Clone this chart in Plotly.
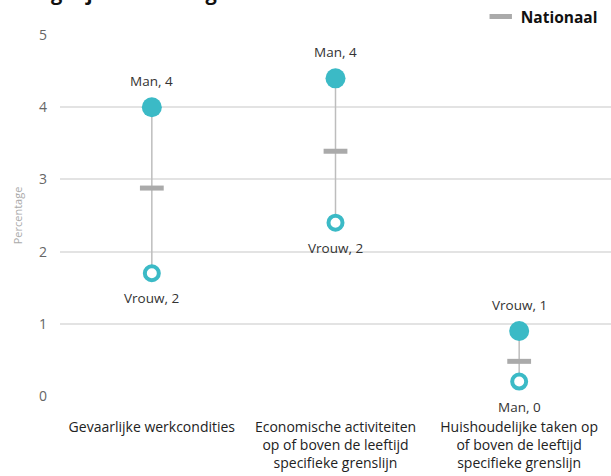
import plotly.graph_objects as go

categories = [
    "Gevaarlijke werkcondities",
    "Economische activiteiten<br>op of boven de leeftijd<br>specifieke grenslijn",
    "Huishoudelijke taken op<br>of boven de leeftijd<br>specifieke grenslijn",
]
man = [4.0, 4.4, 0.2]
vrouw = [1.7, 2.4, 0.9]
nationaal = [2.88, 3.39, 0.48]
y_ticks = [0, 1, 2, 3, 4, 5]
title_text = "Ongelijkheid naar geslacht"

TEAL = "#3BBAC6"
GREY = "#AAAAAA"
FONT = "Open Sans"

xs = list(range(len(categories)))
hi_val, lo_val, hi_txt, lo_txt = [], [], [], []
for m, v in zip(man, vrouw):
    if m >= v:
        hi_val.append(m); lo_val.append(v)
        hi_txt.append(f"Man, {round(m)}"); lo_txt.append(f"Vrouw, {round(v)}")
    else:
        hi_val.append(v); lo_val.append(m)
        hi_txt.append(f"Vrouw, {round(v)}"); lo_txt.append(f"Man, {round(m)}")

lx, ly = [], []
for i in xs:
    lx += [i, i, None]
    ly += [lo_val[i], hi_val[i], None]

fig = go.Figure()
fig.add_trace(go.Scatter(x=lx, y=ly, mode="lines", line=dict(color="#BDBDBD", width=1.5),
                         showlegend=False, hoverinfo="skip"))
fig.add_trace(go.Scatter(x=xs, y=nationaal, mode="markers", name="Nationaal",
                         marker=dict(symbol="line-ew-open", size=17, color=GREY,
                                     line=dict(color=GREY, width=5)),
                         showlegend=True))
fig.add_trace(go.Scatter(x=xs, y=hi_val, mode="markers",
                         marker=dict(size=20, color=TEAL, line=dict(width=0)),
                         showlegend=False))
fig.add_trace(go.Scatter(x=xs, y=lo_val, mode="markers",
                         marker=dict(size=14, color="white", line=dict(width=4, color=TEAL)),
                         showlegend=False))

annotations = []
for i in xs:
    annotations.append(dict(x=i, y=hi_val[i], xref="x", yref="y", text=hi_txt[i],
                            showarrow=False, yshift=26,
                            font=dict(family=FONT, size=13.5, color="#333333")))
    annotations.append(dict(x=i, y=lo_val[i], xref="x", yref="y", text=lo_txt[i],
                            showarrow=False, yshift=-25,
                            font=dict(family=FONT, size=13.5, color="#333333")))
annotations.append(dict(x=-0.0726, y=1.074, xref="paper", yref="paper", xanchor="left",
                        yanchor="bottom", text=title_text, showarrow=False,
                        font=dict(family=FONT, size=20, color="#111111", weight="bold")))

fig.update_layout(
    width=611, height=476,
    margin=dict(l=60, r=0, t=32, b=80),
    paper_bgcolor="white", plot_bgcolor="white",
    font=dict(family=FONT, size=13, color="#333333"),
    showlegend=True,
    annotations=annotations,
    legend=dict(x=0.985, xanchor="right", y=1.05, yanchor="middle",
                font=dict(family=FONT, size=15.5, color="#111111", weight="bold"),
                bgcolor="rgba(0,0,0,0)", itemwidth=30, tracegroupgap=0),
    xaxis=dict(range=[-0.5, 2.5], tickmode="array", tickvals=xs, ticktext=categories,
               showgrid=False, zeroline=False, showline=False, ticks="", automargin=False,
               tickfont=dict(family=FONT, size=14, color="#222222"),
               ticklabelstandoff=21),
    yaxis=dict(range=[0, 5], tickvals=y_ticks, showgrid=True, gridcolor="#E3E3E3",
               gridwidth=1.5, zeroline=False, showline=False, ticks="", automargin=False,
               tickfont=dict(family=FONT, size=14, color="#666666"),
               ticklabelstandoff=12,
               title=dict(text="Percentage", font=dict(family=FONT, size=11, color="#AAAAAA"),
                          standoff=14)),
)

fig.write_html("out.html", config={"displayModeBar": False},
               post_script="document.body.style.margin='0';")
